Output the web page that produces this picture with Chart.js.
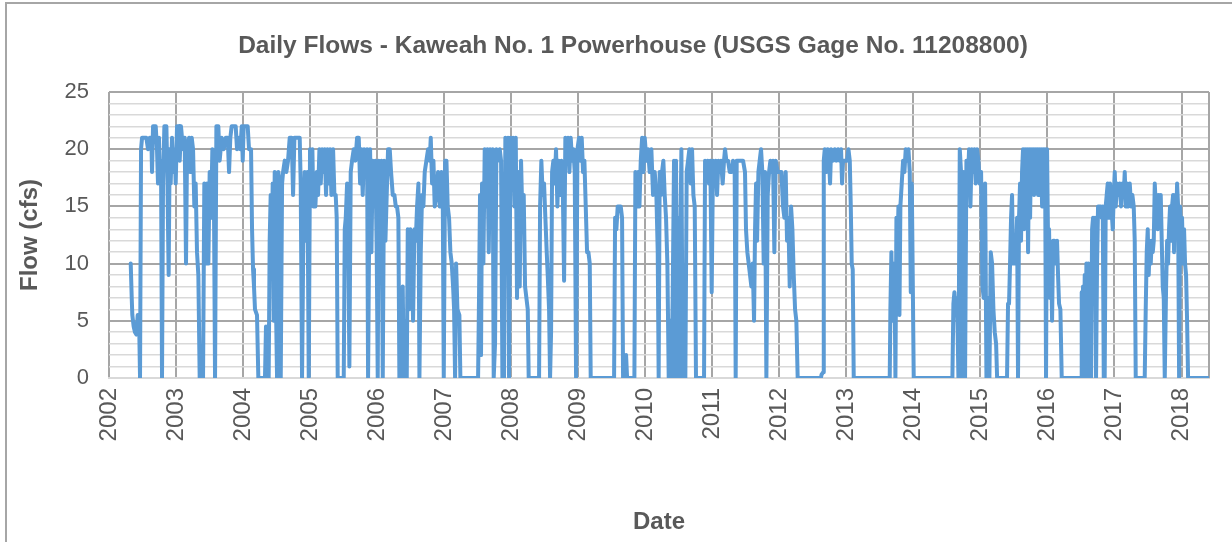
<!DOCTYPE html>
<html>
<head>
<meta charset="utf-8">
<script src="https://cdn.jsdelivr.net/npm/chart.js@4.4.1/dist/chart.umd.min.js"></script>
<style>
  body { margin: 0; background: #fff; }
  canvas { display: block; }
</style>
</head>
<body>
<canvas id="graficoVazao" width="1232" height="542"></canvas>
<script>
// [ano decimal, vazao em cfs]
const vazao2002 = [[2002.324,10],[2002.339,7],[2002.348,5.5],[2002.368,4.5],[2002.388,4],[2002.408,3.8],[2002.428,5.5],[2002.448,5.5],[2002.463,0],[2002.478,20],[2002.493,21],[2002.557,21],[2002.582,20],[2002.607,21],[2002.632,21],[2002.642,18],[2002.657,22],[2002.697,22],[2002.716,20],[2002.731,17],[2002.746,21],[2002.761,17],[2002.776,19],[2002.791,0],[2002.806,17],[2002.826,22],[2002.856,22],[2002.870,18],[2002.890,9],[2002.905,20],[2002.920,17],[2002.940,21],[2002.960,18],[2002.980,20],[2002.995,17]];
const vazao2003 = [[2003.015,22],[2003.045,22],[2003.055,19],[2003.074,22],[2003.104,20],[2003.129,21],[2003.149,10],[2003.164,20],[2003.194,21],[2003.214,18],[2003.234,21],[2003.254,20],[2003.273,15],[2003.293,17],[2003.313,11],[2003.333,9],[2003.353,0],[2003.403,0],[2003.422,17],[2003.442,10],[2003.462,17],[2003.482,10],[2003.502,18],[2003.522,14],[2003.542,20],[2003.562,19],[2003.582,0],[2003.602,22],[2003.631,22],[2003.651,19],[2003.681,21],[2003.711,20],[2003.741,21],[2003.771,21],[2003.791,18],[2003.810,21],[2003.830,22],[2003.890,22],[2003.910,20],[2003.940,21],[2003.960,20],[2003.980,22],[2003.995,19]];
const vazao2004 = [[2004.009,22],[2004.069,22],[2004.089,20],[2004.119,20],[2004.134,13],[2004.149,9.5],[2004.163,8],[2004.178,6],[2004.208,5.5],[2004.228,0],[2004.327,0],[2004.342,4.5],[2004.357,0],[2004.382,0],[2004.397,12],[2004.412,16],[2004.427,10],[2004.442,17],[2004.457,5],[2004.472,18],[2004.492,6],[2004.507,0],[2004.526,18],[2004.546,17],[2004.562,0],[2004.582,17],[2004.597,18],[2004.622,19],[2004.646,18],[2004.671,19],[2004.696,21],[2004.726,21],[2004.746,16],[2004.766,21],[2004.845,21],[2004.860,17],[2004.880,0],[2004.900,13],[2004.920,18],[2004.940,12],[2004.960,18],[2004.980,0],[2004.999,20]];
const vazao2005 = [[2005.019,17],[2005.034,20],[2005.049,15],[2005.079,15],[2005.099,18],[2005.119,16],[2005.139,20],[2005.159,17],[2005.179,20],[2005.198,18],[2005.218,20],[2005.238,16],[2005.258,20],[2005.278,17],[2005.298,20],[2005.318,16],[2005.343,20],[2005.363,16],[2005.382,16],[2005.397,14],[2005.412,0],[2005.502,0],[2005.517,13],[2005.532,14],[2005.552,17],[2005.571,11],[2005.586,1],[2005.606,18],[2005.626,19],[2005.651,20],[2005.676,19],[2005.701,21],[2005.726,21],[2005.746,17],[2005.765,20],[2005.785,16],[2005.805,20],[2005.830,18],[2005.850,20],[2005.865,0],[2005.880,12],[2005.895,20],[2005.915,11],[2005.934,19],[2005.954,15],[2005.974,19],[2005.994,11]];
const vazao2006 = [[2006.009,0],[2006.024,19],[2006.044,12],[2006.064,19],[2006.084,0],[2006.104,19],[2006.124,12],[2006.143,16],[2006.163,20],[2006.188,20],[2006.208,18],[2006.233,16],[2006.258,16],[2006.278,15],[2006.297,15],[2006.317,14],[2006.332,0],[2006.367,0],[2006.382,8],[2006.397,0],[2006.422,5],[2006.442,0],[2006.457,13],[2006.477,6],[2006.496,13],[2006.516,11],[2006.536,5],[2006.556,13],[2006.576,12],[2006.596,15],[2006.616,17],[2006.631,0],[2006.651,11],[2006.670,16],[2006.690,15],[2006.710,18],[2006.735,19],[2006.760,20],[2006.785,19],[2006.800,21],[2006.820,17],[2006.840,19],[2006.859,15],[2006.884,16],[2006.909,18],[2006.934,15],[2006.959,18],[2006.979,16],[2006.994,0]];
const vazao2007 = [[2007.014,19],[2007.034,19],[2007.053,15],[2007.073,14],[2007.093,11],[2007.113,10],[2007.133,8],[2007.148,6],[2007.163,0],[2007.178,10],[2007.198,6],[2007.227,5.5],[2007.242,0],[2007.506,0],[2007.520,7],[2007.535,16],[2007.550,2],[2007.565,17],[2007.585,10],[2007.605,20],[2007.625,15],[2007.645,20],[2007.665,11],[2007.685,20],[2007.704,17],[2007.724,20],[2007.739,0],[2007.759,3],[2007.779,20],[2007.804,19],[2007.829,20],[2007.849,19],[2007.869,0],[2007.893,0],[2007.913,21],[2007.933,17],[2007.953,21],[2007.968,0],[2007.988,21]];
const vazao2008 = [[2008.008,17],[2008.028,21],[2008.048,15],[2008.068,21],[2008.087,7],[2008.107,18],[2008.127,8],[2008.147,19],[2008.167,14],[2008.187,16],[2008.207,8],[2008.227,7],[2008.247,6],[2008.261,0],[2008.416,0],[2008.431,15],[2008.450,19],[2008.470,16],[2008.490,17],[2008.510,14],[2008.530,11],[2008.545,9],[2008.565,6],[2008.580,0],[2008.595,4],[2008.610,18],[2008.629,19],[2008.649,17],[2008.669,20],[2008.689,15],[2008.709,19],[2008.729,16],[2008.749,19],[2008.769,17],[2008.789,8.5],[2008.808,21],[2008.828,19],[2008.848,21],[2008.868,18],[2008.888,21],[2008.908,19],[2008.928,20],[2008.948,18],[2008.968,0],[2008.988,20]];
const vazao2009 = [[2009.012,21],[2009.032,19],[2009.052,21],[2009.072,18],[2009.092,19],[2009.112,15],[2009.132,11],[2009.152,11],[2009.172,10],[2009.186,0],[2009.535,0],[2009.550,14],[2009.569,13],[2009.589,15],[2009.614,15],[2009.634,15],[2009.654,14],[2009.669,0],[2009.699,0],[2009.714,2],[2009.729,0],[2009.838,0],[2009.853,18],[2009.873,15],[2009.893,18],[2009.913,15],[2009.933,19],[2009.953,21],[2009.972,18],[2009.992,21]];
const vazao2010 = [[2010.017,19],[2010.041,20],[2010.066,18],[2010.091,20],[2010.116,16],[2010.141,18],[2010.166,16],[2010.186,11],[2010.200,0],[2010.215,18],[2010.235,16],[2010.250,18],[2010.270,19],[2010.290,16],[2010.310,14],[2010.330,10],[2010.350,0],[2010.370,5],[2010.389,0],[2010.409,7],[2010.429,19],[2010.444,0],[2010.459,19],[2010.474,5],[2010.489,14],[2010.504,0],[2010.519,10],[2010.539,20],[2010.559,0],[2010.578,5],[2010.598,0],[2010.618,18],[2010.638,19],[2010.658,20],[2010.678,17],[2010.698,20],[2010.718,16],[2010.738,15],[2010.757,0],[2010.877,0],[2010.892,19],[2010.912,18],[2010.931,19],[2010.951,17],[2010.971,19],[2010.991,7.5]];
const vazao2011 = [[2011.011,19],[2011.031,17],[2011.051,19],[2011.071,16],[2011.091,19],[2011.110,18],[2011.130,19],[2011.155,17],[2011.175,19],[2011.190,20],[2011.210,19],[2011.235,19],[2011.260,18],[2011.290,18],[2011.309,19],[2011.334,18],[2011.349,0],[2011.364,19],[2011.409,19],[2011.459,19],[2011.488,18],[2011.503,13],[2011.523,11],[2011.543,10],[2011.563,9],[2011.583,8],[2011.603,10],[2011.623,5],[2011.638,13],[2011.653,17],[2011.668,12],[2011.688,18],[2011.707,19],[2011.727,20],[2011.747,18],[2011.767,10],[2011.787,18],[2011.807,0],[2011.827,16],[2011.847,18],[2011.867,19],[2011.886,18],[2011.906,19],[2011.926,11],[2011.946,19],[2011.976,18]];
const vazao2012 = [[2012.006,18],[2012.031,18],[2012.055,15],[2012.075,14],[2012.095,18],[2012.115,12],[2012.135,14],[2012.155,8],[2012.175,15],[2012.195,13],[2012.215,9],[2012.235,6],[2012.254,5],[2012.274,0],[2012.620,0],[2012.630,0.3],[2012.653,0.5],[2012.663,19],[2012.678,20],[2012.702,18],[2012.722,20],[2012.742,19],[2012.757,17],[2012.772,20],[2012.802,19],[2012.827,20],[2012.852,19],[2012.876,20],[2012.901,19],[2012.921,20],[2012.936,17],[2012.951,19],[2012.981,19]];
const vazao2013 = [[2013.011,19],[2013.031,20],[2013.051,19],[2013.066,15],[2013.080,10],[2013.095,9.5],[2013.110,0],[2013.647,0],[2013.657,6],[2013.672,11],[2013.687,5],[2013.702,8],[2013.717,10],[2013.732,0],[2013.747,14],[2013.762,11],[2013.777,15],[2013.792,5.5],[2013.806,15],[2013.826,17],[2013.846,19],[2013.866,18],[2013.886,20],[2013.906,19],[2013.926,20],[2013.946,18],[2013.961,7.5],[2013.976,17],[2013.990,9]];
const vazao2014 = [[2014.005,0],[2014.582,0],[2014.597,6.5],[2014.612,7.5],[2014.627,6],[2014.642,7],[2014.657,5],[2014.672,0],[2014.692,20],[2014.711,18],[2014.731,0],[2014.751,18],[2014.771,0],[2014.791,19],[2014.811,17],[2014.831,20],[2014.851,15],[2014.871,20],[2014.891,18],[2014.911,20],[2014.930,17],[2014.950,20],[2014.970,19],[2014.990,17]];
const vazao2015 = [[2015.010,18],[2015.030,8],[2015.050,7],[2015.070,17],[2015.090,0],[2015.114,7],[2015.134,0],[2015.154,11],[2015.174,10],[2015.194,6],[2015.214,4],[2015.234,3],[2015.249,0],[2015.397,0],[2015.412,6.5],[2015.427,6.5],[2015.442,10],[2015.457,14],[2015.472,16],[2015.487,10],[2015.507,12],[2015.527,10],[2015.547,14],[2015.561,0],[2015.576,14],[2015.591,17],[2015.606,12],[2015.621,18],[2015.636,20],[2015.651,13],[2015.666,20],[2015.681,15],[2015.696,20],[2015.711,11],[2015.726,20],[2015.741,14],[2015.755,20],[2015.770,17],[2015.785,20],[2015.800,16],[2015.815,20],[2015.830,18],[2015.845,20],[2015.860,16],[2015.875,20],[2015.890,16],[2015.905,20],[2015.920,15],[2015.935,20],[2015.949,17],[2015.964,20],[2015.979,0],[2015.994,20]];
const vazao2016 = [[2016.009,12],[2016.024,13],[2016.039,7],[2016.054,11],[2016.069,5],[2016.084,12],[2016.104,12],[2016.123,10],[2016.143,12],[2016.158,9],[2016.173,6.5],[2016.193,6],[2016.213,0],[2016.501,0],[2016.511,7.5],[2016.521,0],[2016.531,8],[2016.541,0],[2016.556,9],[2016.566,0],[2016.581,10],[2016.596,8],[2016.611,10],[2016.621,0],[2016.636,9],[2016.651,0],[2016.666,13],[2016.680,14],[2016.695,10],[2016.710,14],[2016.725,0],[2016.740,10],[2016.755,15],[2016.775,15],[2016.795,15],[2016.810,14],[2016.825,15],[2016.840,0],[2016.854,0],[2016.869,15],[2016.884,16],[2016.899,17],[2016.919,14],[2016.934,17],[2016.954,15],[2016.974,13],[2016.989,16]];
const vazao2017 = [[2017.004,18],[2017.019,15],[2017.038,17],[2017.058,16],[2017.078,17],[2017.098,15],[2017.118,17],[2017.138,16],[2017.153,18],[2017.168,15],[2017.188,17],[2017.208,15],[2017.228,17],[2017.247,15],[2017.267,16],[2017.287,15],[2017.302,12],[2017.317,0],[2017.451,0],[2017.466,6],[2017.481,11],[2017.496,13],[2017.511,9],[2017.526,12],[2017.541,10],[2017.556,12],[2017.571,11],[2017.586,12],[2017.601,17],[2017.616,15],[2017.630,16],[2017.645,13],[2017.660,16],[2017.675,14],[2017.690,16],[2017.705,12],[2017.720,8],[2017.735,7],[2017.750,0],[2017.770,8],[2017.785,12],[2017.799,10],[2017.814,13],[2017.829,15],[2017.844,12],[2017.859,15],[2017.874,16],[2017.889,11],[2017.904,16],[2017.919,13],[2017.934,17],[2017.949,15],[2017.964,0],[2017.978,15],[2017.993,13]];
const vazao2018 = [[2018.008,14],[2018.023,10],[2018.038,13],[2018.053,10],[2018.068,9],[2018.083,5],[2018.098,0],[2018.400,0]];

const anosEixo = [2002, 2003, 2004, 2005, 2006, 2007, 2008, 2009, 2010, 2011, 2012, 2013, 2014, 2015, 2016, 2017, 2018];
const anoInicio = 2002;
const anoFim = 2018.41;
const flowMax = 25;

const titulo = 'Daily Flows - Kaweah No. 1 Powerhouse (USGS Gage No. 11208800)';

const pontos = [].concat(vazao2002, vazao2003, vazao2004, vazao2005, vazao2006, vazao2007,
    vazao2008, vazao2009, vazao2010, vazao2011, vazao2012, vazao2013, vazao2014,
    vazao2015, vazao2016, vazao2017, vazao2018).map(p => ({ x: p[0], y: p[1] }));

Chart.defaults.font.family = "'Liberation Sans', Arial, sans-serif";
Chart.defaults.color = '#595959';

// titulo, moldura do grafico e borda direita da area de plotagem
const moldura = {
    id: 'moldura',
    beforeDatasetsDraw(chart) {
        const c = chart.ctx, a = chart.chartArea;
        c.save();
        c.strokeStyle = '#a6a6a6';
        c.lineWidth = 2;
        c.beginPath();
        c.moveTo(a.right, a.top);
        c.lineTo(a.right, a.bottom);
        c.stroke();
        c.restore();
    },
    afterDraw(chart) {
        const c = chart.ctx;
        c.save();
        c.strokeStyle = '#a6a6a6';
        c.lineWidth = 2;
        c.beginPath();
        c.moveTo(6, chart.height);
        c.lineTo(6, 3);
        c.lineTo(chart.width, 3);
        c.stroke();
        c.fillStyle = '#595959';
        c.font = "bold 24.5px 'Liberation Sans', Arial, sans-serif";
        c.textAlign = 'center';
        c.textBaseline = 'middle';
        c.fillText(titulo, 633, 46);
        c.restore();
    }
};

const ctx = document.getElementById('graficoVazao').getContext('2d');
new Chart(ctx, {
    type: 'line',
    data: {
        datasets: [{
            data: pontos,
            borderColor: '#5b9bd5',
            borderWidth: 4,
            borderJoinStyle: 'round',
            borderCapStyle: 'round',
            pointRadius: 0,
            tension: 0
        }]
    },
    options: {
        responsive: false,
        animation: false,
        layout: { padding: { top: 92, left: 8, right: 23, bottom: 0 } },
        plugins: { legend: { display: false }, tooltip: { enabled: false } },
        scales: {
            x: {
                type: 'linear',
                min: anoInicio,
                max: anoFim,
                afterBuildTicks: s => { s.ticks = anosEixo.map(a => ({ value: a })); },
                afterFit: s => { s.height = 164; },
                ticks: {
                    autoSkip: false,
                    minRotation: 90,
                    maxRotation: 90,
                    padding: 10,
                    font: { size: 24 },
                    callback: v => String(v)
                },
                grid: { color: '#a6a6a6', lineWidth: 2, drawTicks: false },
                border: { color: '#d9d9d9', width: 2 },
                title: {
                    display: true,
                    text: 'Date',
                    font: { size: 24, weight: 'bold' },
                    padding: { top: 0, bottom: 5 }
                }
            },
            y: {
                min: 0,
                max: flowMax,
                afterFit: s => { s.width = 101; },
                ticks: {
                    stepSize: 1,
                    autoSkip: false,
                    padding: 20,
                    font: { size: 22 },
                    callback: v => (v % 5 === 0 ? String(v) : '')
                },
                grid: {
                    drawTicks: false,
                    color: c => (c.tick.value === 0 ? '#d9d9d9' : c.tick.value % 5 === 0 ? '#a6a6a6' : '#d9d9d9'),
                    lineWidth: c => (c.tick.value % 5 === 0 && c.tick.value !== 0 ? 2 : 1.5)
                },
                border: { display: false },
                title: {
                    display: true,
                    text: 'Flow (cfs)',
                    font: { size: 24, weight: 'bold' },
                    padding: { top: 8, bottom: 0 }
                }
            }
        }
    },
    plugins: [moldura]
});
</script>
</body>
</html>
